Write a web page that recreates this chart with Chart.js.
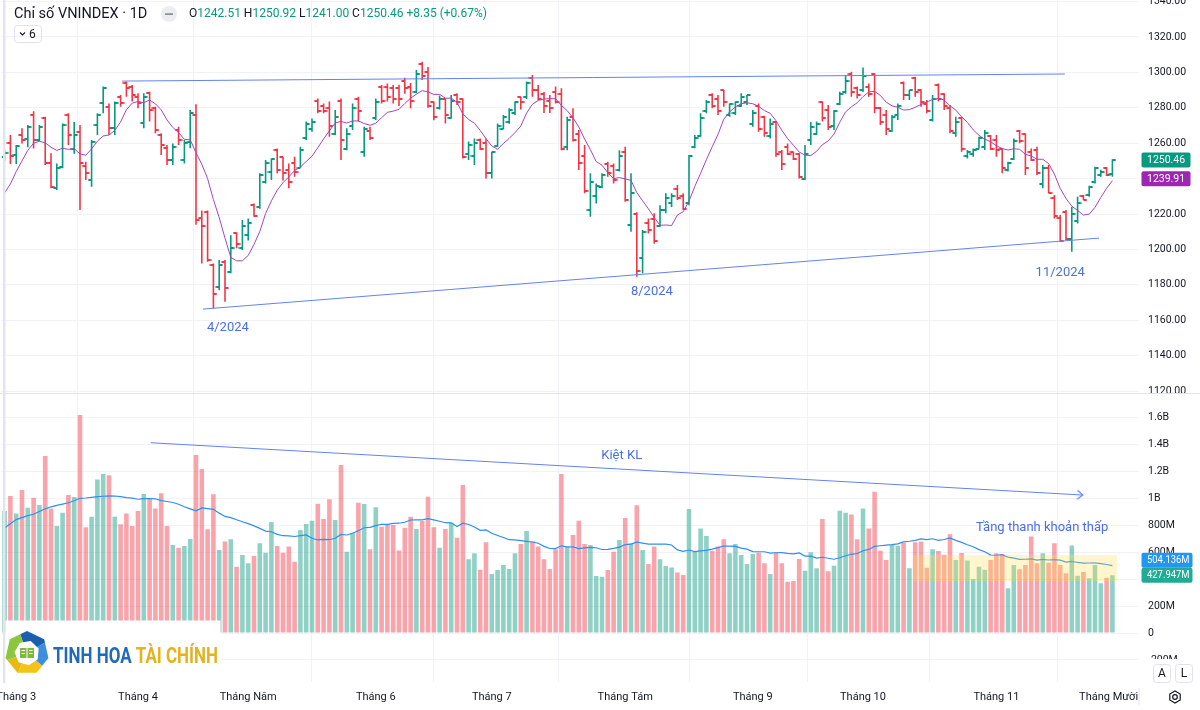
<!DOCTYPE html>
<html><head><meta charset="utf-8">
<script src="https://cdn.jsdelivr.net/npm/chart.js@4.4.1/dist/chart.umd.min.js"></script>
<style>html,body{margin:0;padding:0;background:#fff;}canvas{display:block;}</style>
</head><body>
<canvas id="c" width="1200" height="710"></canvas>
<script>
// ---------- DATA ----------
const SLOTS = 196; // trading-day slots on the time axis (192 bars + right margin)
const monthTickIndex = [2, 23, 42, 64, 84, 107, 129, 148, 171, 192];
const monthTickLabels = ['Tháng 3','Tháng 4','Tháng Năm','Tháng 6','Tháng 7','Tháng Tám','Tháng 9','Tháng 10','Tháng 11','Tháng Mười Hai'];

const opens = [
1252,1260.3,1253.3,1264.6,1262.5,1276,1262,1274,1248.6,1234.5,
1246.7,1276,1257,1266.5,1247,1239.2,1270.3,1282.5,1280.6,1268.4,
1286.3,1293.8,1292,1286.3,1271.2,1288.2,1279.7,1264.6,1257.1,1250.5,
1267.5,1250.5,1260.9,1276,1218,1221,1191,1179,1193,1187,
1209,1201,1208,1225,1224,1238,1244,1256,1252,1245,
1249,1246,1263,1268,1284,1281,1280,1265,1284,1257,
1270,1285,1255,1267,1274,1292,1292,1291,1291,1295,
1292,1289,1305,1300,1283,1280,1285,1274,1287,1285,
1254,1253,1262,1260,1243,1258.5,1268,1272,1277,1286,
1286,1297,1290,1288,1284,1289,1288,1258,1275,1265,
1253,1222,1230,1235,1248,1247,1245,1255,1214,1220,
1195,1215,1217,1213,1222,1226,1234,1230,1226,1258,
1264,1278,1287,1285,1290,1276,1277,1281,1283,1271,
1281,1275,1264,1272,1255,1258,1255,1254,1240,1262,
1265,1283,1279,1270,1282,1289,1299,1291,1290,1292,
1299,1280,1276,1267,1276,1294,1287,1297,1290,1282,
1273,1293,1288,1280,1266,1274,1253,1254,1257,1258,
1264,1262,1257,1245,1251,1267,1265,1255,1256,1237,
1246,1229,1218,1221,1206,1216,1230,1231,1238,1242,
1246,1242.51];
const highs = [
1256,1264.6,1259,1268.4,1270.3,1278,1270.3,1275,1254.3,1248.6,
1271.2,1276.9,1272,1270.3,1249.6,1261.8,1276.9,1292,1282.5,1283.5,
1287.2,1294.8,1292.9,1288.2,1288.2,1289.1,1280.6,1265.6,1259,1259.9,
1269.3,1261.8,1278.8,1282,1222,1222,1192,1194,1194,1208,
1209.5,1216.6,1217.5,1226,1243,1250.5,1251.4,1257,1252.4,1248.6,
1252.4,1258,1272.2,1274,1285.3,1282.5,1283.5,1278.8,1285.3,1268.4,
1282.5,1286.3,1269.3,1269.3,1285.3,1292.9,1293.8,1292.9,1293,1297,
1294,1301.4,1306,1303,1283.5,1287,1285.3,1287.2,1288.2,1285.3,
1261,1262.7,1262.7,1262.7,1255.2,1271.2,1276,1279.7,1283.5,1286.3,
1294.8,1298.5,1292.9,1289,1287.2,1292,1291,1275,1279.7,1267.5,
1259,1243,1237.3,1243,1249.6,1248.6,1256,1258,1243,1221,
1211,1217.5,1220.4,1225,1231.7,1231.7,1236.4,1231.7,1253.3,1264.6,
1276.9,1284.4,1288.2,1287.2,1290.1,1282.5,1283.5,1288.2,1287.2,1278.8,
1282.5,1275.5,1274,1272.2,1256.2,1259.9,1255.2,1254.3,1259,1272,
1272.2,1283.5,1281.6,1278.8,1289.1,1298.5,1300.4,1292,1302.8,1293.8,
1299.5,1280.5,1278.8,1276,1282.5,1294.8,1290.1,1297.6,1290.5,1284.4,
1287.2,1293.8,1288.2,1281.6,1275,1275,1256.2,1257,1263.7,1267.5,
1264.6,1264.6,1257.1,1249.6,1262.7,1267.5,1265.5,1257,1258,1247.7,
1247.7,1230.7,1219.4,1222.3,1224.1,1229.8,1230.7,1236,1246.7,1245,
1246.5,1250.92];
const lows = [
1250,1248.2,1248.2,1259.9,1257.7,1257,1260.9,1247.7,1234.5,1233.6,
1245.8,1259,1254,1222.3,1239.2,1235.4,1264.6,1276.9,1264.6,1264.6,
1280.6,1286.3,1283.5,1279.7,1268.4,1272.2,1265.6,1253.3,1247.7,1247.7,
1259,1248.6,1257.1,1214,1192,1193,1166.7,1177,1170.5,1186.5,
1200.6,1199.7,1205,1218.5,1223,1237.3,1239.2,1243,1239,1234.5,
1241,1246,1261.8,1266.5,1276.9,1276.9,1263.7,1264.6,1250.5,1256,
1267.5,1272.2,1252.4,1261.8,1273.1,1282.5,1283.5,1282.5,1281,1288,
1279.7,1288.2,1295.7,1280,1273,1279,1271.2,1274,1281.6,1251.4,
1250.5,1247.7,1256.2,1240.1,1240.1,1258,1268,1271,1276,1279,
1285,1286.3,1284.4,1277,1277,1282.5,1256,1256,1260.9,1244.9,
1231.7,1218.5,1226,1234.5,1241,1237.3,1244,1227,1210,1184.6,
1186.5,1209,1203.4,1212.8,1220.4,1224,1227.9,1222.3,1225,1257.1,
1263.7,1276.9,1279.7,1276,1280.6,1275,1276,1280.6,1281.6,1269.3,
1266.5,1263.7,1262.7,1252.4,1244.9,1253.3,1250.5,1240.1,1239.2,1259,
1264.6,1272.2,1267.5,1267.5,1281.6,1288,1286.3,1285.3,1289,1286.3,
1276.9,1270.3,1264.6,1266.5,1273.1,1284.4,1284.4,1286.3,1280.6,1276.9,
1272.2,1283.5,1278.8,1265.6,1263.7,1255.2,1251.4,1252.4,1257,1256.2,
1256.2,1252.4,1243,1244,1250.5,1260,1242,1250,1242,1234.5,
1231.7,1217.5,1204.4,1205.3,1198.7,1214.7,1227.9,1229.8,1237.3,1241,
1241.5,1241.00];
const closes = [
1254.6,1252.8,1258.4,1261.8,1269,1262,1269,1248.6,1235.4,1245.8,
1270.3,1264.6,1264.6,1248.6,1243,1260.9,1275.9,1291,1268.4,1282.5,
1282.5,1291,1287.2,1282.5,1286.3,1278.8,1267.5,1259,1250.5,1258,
1261.8,1259.9,1276.9,1216.6,1213,1194,1175,1191,1178,1201,
1203,1213,1215,1219,1242,1249,1251,1245,1243,1238,
1244,1256,1271,1272,1278,1278,1270,1275,1262,1265,
1280,1278,1268,1263,1283,1284,1286,1285,1285,1291,
1284,1299,1298,1281,1275,1285,1276,1284,1283,1252,
1259,1260,1257,1243,1255,1270,1275,1279,1283,1283,
1294,1290,1285,1281,1280,1283,1256.5,1273,1262,1249,
1233,1238,1236,1242,1243,1239,1253,1228,1232,1187.6,
1210,1211,1205,1222,1229,1230,1229,1223,1253,1263,
1274,1283,1281,1278,1283,1282,1283,1286,1287,1277,
1268,1266,1271,1254,1248,1254,1251,1241,1254,1269,
1271,1274,1269,1278,1288,1295,1289,1287,1298,1288,
1280,1272,1268,1275,1281,1287,1290,1289,1283,1278,
1285,1285,1281,1267,1272,1257,1255,1256,1263,1266,
1257,1256,1246,1249,1261,1261,1246,1250.5,1243,1246,
1232,1219,1205,1206,1220,1226,1228,1235.4,1246,1244,
1242.11,1250.46];
// volume, millions of shares
const volumes = [
904,1015,886,1059,928,1002,948,1311,923,793,
891,1022,1007,1615,783,862,1138,1178,1168,862,
805,886,793,904,1030,993,923,1035,793,652,
632,644,696,1319,1215,768,1027,615,677,694,
491,578,516,570,664,595,822,644,595,640,
528,763,807,832,958,844,990,837,1244,602,
743,965,956,620,931,788,807,800,611,780,
862,770,830,1010,783,632,770,817,706,1096,
546,590,469,672,437,467,504,474,590,659,
756,677,640,546,474,620,1178,644,726,832,
659,652,422,417,467,602,689,852,664,946,
615,511,640,546,496,486,449,430,919,602,
775,719,610,640,694,590,659,578,511,585,
595,516,437,598,516,380,385,548,462,598,
479,844,457,499,906,891,877,694,923,775,
1047,610,541,652,647,669,479,672,677,484,
620,607,580,731,541,593,538,400,491,469,
541,590,585,331,504,472,504,714,516,590,
521,664,504,442,649,425,452,405,504,368,
410,427.947];

// moving averages: values before the first full window
const MA_LEN = 7, VMA_LEN = 20;
const maStart = [1232,1237,1244,1250,1256,1260];
const volMaStart = [780,810,840,855,870,880,900,920,935,945,955,965,980,998,1000,1005,1010,1013,1016];
const lastLabelValues = { priceMa: 1239.91, volMa: 504.136 };

// drawings
const priceTrendTop = [{x:20.24, y:1295.1}, {x:182.8, y:1299.1}];
const priceTrendBottom = [{x:34.2, y:1166.3}, {x:188.7, y:1206.4}];
const volTrend = [{x:25.19, y:1409.6}, {x:185.9, y:1022}];
const lowZone = {from:156.6, to:191.8, low:385, high:578};
const notes = [
  {text:'4/2024', x:38.5, y:1155.6, axis:'y'},
  {text:'8/2024', x:111.6, y:1175.9, axis:'y'},
  {text:'11/2024', x:182, y:1186.7, axis:'y'},
  {text:'Kiệt KL', x:106.4, y:1311, axis:'yv'},
  {text:'Tầng thanh khoản thấp', x:178.9, y:778, axis:'yv'}
];

// ---------- helpers ----------
const UP = '#089981', DN = '#f23645';
const UPV = 'rgba(8,153,129,0.45)', DNV = 'rgba(242,54,69,0.45)';
const DRAW = '#6283ec', NOTE = '#4a6fe3';
const isUp = i => closes[i] >= opens[i];
function sma(src, len, lead) {
  return src.map((_, i) => {
    if (i < lead.length) return lead[i];
    let s = 0; for (let k = i - len + 1; k <= i; k++) s += src[k];
    return s / len;
  });
}
const maVals = sma(closes, MA_LEN, maStart);
const volMaVals = sma(volumes, VMA_LEN, volMaStart);
function tickImg(color, side) {
  const c = document.createElement('canvas'); c.width = 8; c.height = 2;
  const g = c.getContext('2d'); g.fillStyle = color;
  if (side === 'L') g.fillRect(0.5, 0, 3.5, 2); else g.fillRect(4, 0, 3.5, 2);
  return c;
}
function chevron(color) {
  const c = document.createElement('canvas'); c.width = 16; c.height = 16;
  const g = c.getContext('2d'); g.strokeStyle = color; g.lineWidth = 1.2;
  g.beginPath(); g.moveTo(2.5, 3.5); g.lineTo(8, 8); g.lineTo(2.5, 12.5); g.stroke();
  return c;
}
const openUp = tickImg(UP,'L'), openDn = tickImg(DN,'L'), closeUp = tickImg(UP,'R'), closeDn = tickImg(DN,'R');
const arrowImg = chevron(DRAW);
const idx = opens.map((_, i) => i);

Chart.defaults.font.family = 'Roboto, "Noto Sans", sans-serif';
Chart.defaults.font.size = 11;
Chart.defaults.color = '#131722';

const GRID = '#f0f2f7';
const AXIS_FONT = { size: 10.5 };

const overlay = {
  id: 'overlay',
  afterDatasetsDraw(chart) {
    const {ctx} = chart; const xs = chart.scales.x, yv = chart.scales.yv;
    ctx.save();
    const x0 = xs.getPixelForValue(lowZone.from), x1 = xs.getPixelForValue(lowZone.to);
    const y0 = yv.getPixelForValue(lowZone.high), y1 = yv.getPixelForValue(lowZone.low);
    ctx.fillStyle = 'rgba(255,224,80,0.28)';
    ctx.fillRect(x0, y0, x1 - x0, y1 - y0);
    ctx.restore();
  },
  afterDraw(chart) {
    const {ctx} = chart; const xs = chart.scales.x, ys = chart.scales.y, yv = chart.scales.yv;
    const W = chart.width;
    const R = xs.right;
    ctx.save();
    // notes
    ctx.font = '13px Roboto'; ctx.fillStyle = NOTE; ctx.textAlign = 'center'; ctx.textBaseline = 'middle';
    notes.forEach(n => {
      const sc = n.axis === 'y' ? ys : yv;
      ctx.fillText(n.text, xs.getPixelForValue(n.x), sc.getPixelForValue(n.y));
    });
    // pane separator
    ctx.fillStyle = '#fff'; ctx.fillRect(R, ys.bottom, W - R, 9);
    ctx.strokeStyle = '#e0e3eb'; ctx.lineWidth = 1;
    ctx.beginPath(); ctx.moveTo(0, Math.round(ys.bottom) + 0.5); ctx.lineTo(W, Math.round(ys.bottom) + 0.5); ctx.stroke();
    // left border strip
    ctx.fillStyle = '#e2e5ee'; ctx.fillRect(3, 0, 2.5, 683);
    // logo
    ctx.fillStyle = '#fff'; ctx.fillRect(5.5, 620.5, 215, 62);
    drawLogo(ctx);
    // bottom-right controls
    ctx.fillStyle = '#fff'; ctx.fillRect(R + 0.5, 659, W - R, 24);
    ctx.fillRect(R + 0.5, 683, W - R, 27);
    ctx.strokeStyle = '#e0e3eb';
    ctx.beginPath(); ctx.moveTo(R + 0.5, 688); ctx.lineTo(R + 0.5, 705); ctx.stroke();
    [['A', 1153.5], ['L', 1175.5]].forEach(([t, x]) => {
      ctx.strokeStyle = '#e0e3eb'; ctx.beginPath(); ctx.roundRect(x, 664.5, 17, 18, 3); ctx.stroke();
      ctx.fillStyle = '#131722'; ctx.font = '12px Roboto'; ctx.textAlign = 'center'; ctx.textBaseline = 'middle';
      ctx.fillText(t, x + 8.5, 674);
    });
    // gear
    ctx.strokeStyle = '#131722'; ctx.lineWidth = 1.2; ctx.beginPath();
    for (let k = 0; k < 6; k++) { const a = Math.PI / 6 + k * Math.PI / 3; const px = 1175 + 6 * Math.cos(a), py = 697 + 6 * Math.sin(a); k ? ctx.lineTo(px, py) : ctx.moveTo(px, py); }
    ctx.closePath(); ctx.stroke();
    ctx.beginPath(); ctx.arc(1175, 697, 2.3, 0, Math.PI * 2); ctx.stroke();
    // price-scale labels
    const last = closes.length - 1;
    const box = (y, color, text, x0 = 1141.5, w = 49) => {
      ctx.fillStyle = color; ctx.beginPath(); ctx.roundRect(x0, y - 7.5, w, 15, 2); ctx.fill();
      ctx.fillStyle = '#fff'; ctx.font = '10.5px Roboto'; ctx.textAlign = 'left'; ctx.textBaseline = 'middle';
      const tw = ctx.measureText(text).width, maxW = x0 + w - 3 - 1147;
      ctx.save(); ctx.translate(1147, y + 0.5);
      if (tw > maxW) ctx.scale(maxW / tw, 1);
      ctx.fillText(text, 0, 0); ctx.restore();
    };
    box(ys.getPixelForValue(closes[last]), UP, closes[last].toFixed(2));
    box(ys.getPixelForValue(lastLabelValues.priceMa), '#9c27b0', lastLabelValues.priceMa.toFixed(2));
    const vY = yv.getPixelForValue(volumes[last]);
    const mY = Math.min(yv.getPixelForValue(lastLabelValues.volMa), vY - 15);
    box(mY, '#2196f3', lastLabelValues.volMa.toFixed(3) + 'M', 1141.5, 51);
    box(vY, '#22ab94', volumes[last].toFixed(3) + 'M', 1141.5, 51);
    // header legend
    ctx.textAlign = 'left'; ctx.textBaseline = 'middle';
    ctx.font = '14.5px Roboto'; ctx.fillStyle = '#131722';
    ctx.fillText('Chỉ số VNINDEX · 1D', 14, 14);
    ctx.fillStyle = '#ebedf1'; ctx.beginPath(); ctx.arc(169, 14, 8, 0, Math.PI * 2); ctx.fill();
    ctx.fillStyle = '#8f929b'; ctx.fillRect(165, 13.2, 8, 1.8);
    const chg = closes[last] - closes[last - 1];
    const pct = chg / closes[last - 1] * 100;
    const sign = chg >= 0 ? '+' : '';
    const col = chg >= 0 ? UP : DN;
    const parts = [['O', '#131722'], [opens[last].toFixed(2), col], [' H', '#131722'], [highs[last].toFixed(2), col],
      [' L', '#131722'], [lows[last].toFixed(2), col], [' C', '#131722'], [closes[last].toFixed(2), col],
      [' ' + sign + chg.toFixed(2) + ' (' + sign + pct.toFixed(2) + '%)', col]];
    ctx.font = '12px Roboto';
    let hx = 189;
    parts.forEach(([t, c]) => { ctx.fillStyle = c; ctx.fillText(t, hx, 14); hx += ctx.measureText(t).width; });
    ctx.strokeStyle = '#e0e3eb'; ctx.lineWidth = 1;
    ctx.beginPath(); ctx.roundRect(14.5, 25.5, 27, 17, 3); ctx.stroke();
    ctx.strokeStyle = '#131722'; ctx.lineWidth = 1.1;
    ctx.beginPath(); ctx.moveTo(20, 32.5); ctx.lineTo(22.5, 35); ctx.lineTo(25, 32.5); ctx.stroke();
    ctx.fillStyle = '#131722'; ctx.font = '12px Roboto'; ctx.fillText('6', 29, 34.5);
    ctx.restore();
  }
};

function drawLogo(ctx) {
  const cx = 27, cy = 653, R = 22;
  const segs = [['#1b5fae', -110, -30], ['#3d8fdc', -30, 40], ['#f3c316', 40, 115], ['#e8b90f', 115, 160], ['#8cc63e', 160, 250]];
  const poly = (r, a0) => { ctx.beginPath(); for (let k = 0; k < 7; k++) { const a = a0 + k * 2 * Math.PI / 7; const px = cx + r * Math.cos(a), py = cy + r * Math.sin(a); k ? ctx.lineTo(px, py) : ctx.moveTo(px, py); } ctx.closePath(); };
  ctx.save();
  poly(R, -Math.PI / 2); ctx.clip();
  segs.forEach(([c, a0, a1]) => {
    ctx.fillStyle = c; ctx.beginPath(); ctx.moveTo(cx, cy);
    ctx.arc(cx, cy, R + 4, a0 * Math.PI / 180, a1 * Math.PI / 180); ctx.closePath(); ctx.fill();
  });
  ctx.restore();
  ctx.fillStyle = '#fff'; poly(12.5, -Math.PI / 2 + 0.3); ctx.fill();
  ctx.fillStyle = '#7fb83a';
  ctx.fillRect(cx - 7, cy - 5, 6.5, 10); ctx.fillRect(cx + 0.5, cy - 5, 6.5, 10);
  ctx.fillStyle = '#fff'; ctx.fillRect(cx - 5.5, cy - 3, 3.5, 1); ctx.fillRect(cx + 2, cy - 3, 3.5, 1);
  ctx.fillRect(cx - 5.5, cy, 3.5, 1); ctx.fillRect(cx + 2, cy, 3.5, 1);
  ctx.save();
  ctx.font = 'bold 22px Roboto'; ctx.textAlign = 'left'; ctx.textBaseline = 'alphabetic';
  const t1 = 'TINH HOA ', t2 = 'TÀI CHÍNH';
  const w1 = ctx.measureText(t1).width, w2 = ctx.measureText(t2).width;
  ctx.translate(53, 663); ctx.scale(165 / (w1 + w2), 1);
  ctx.fillStyle = '#1f6bb8'; ctx.fillText(t1, 0, 0);
  ctx.fillStyle = '#e3b21d'; ctx.fillText(t2, w1, 0);
  ctx.restore();
}

new Chart(document.getElementById('c'), {
  data: {
    datasets: [
      { type:'line', label:'trend top', data: priceTrendTop, yAxisID:'y', borderColor: DRAW, borderWidth: 1, pointRadius: 0, order: 0 },
      { type:'line', label:'trend bottom', data: priceTrendBottom, yAxisID:'y', borderColor: DRAW, borderWidth: 1, pointRadius: 0, order: 0 },
      { type:'line', label:'Kiệt KL', data: volTrend, yAxisID:'yv', borderColor: DRAW, borderWidth: 1,
        pointRadius: [0, 5], pointStyle: [false, arrowImg],
        pointRotation: (c) => { const ch = c.chart, xs = ch.scales.x, ys = ch.scales.yv; if (!xs || !ys) return 0;
          const dx = xs.getPixelForValue(volTrend[1].x) - xs.getPixelForValue(volTrend[0].x);
          const dy = ys.getPixelForValue(volTrend[1].y) - ys.getPixelForValue(volTrend[0].y);
          return Math.atan2(dy, dx) * 180 / Math.PI; }, order: 0 },
      { type:'line', label:'MA', data: idx.map(i => ({x:i, y:maVals[i]})), yAxisID:'y', borderColor:'#a245bd', borderWidth: 1, pointRadius: 0, order: 1 },
      { type:'line', label:'open', data: idx.map(i => ({x:i, y:opens[i]})), yAxisID:'y', showLine:false, pointRadius: 3,
        pointStyle: c => isUp(c.dataIndex) ? openUp : openDn, order: 2 },
      { type:'line', label:'close', data: idx.map(i => ({x:i, y:closes[i]})), yAxisID:'y', showLine:false, pointRadius: 3,
        pointStyle: c => isUp(c.dataIndex) ? closeUp : closeDn, order: 2 },
      { type:'bar', label:'range', data: idx.map(i => ({x:i, y:[lows[i], highs[i]]})), yAxisID:'y', grouped:false, barThickness: 1.6,
        inflateAmount: 0, borderWidth: 0, backgroundColor: idx.map(i => isUp(i) ? UP : DN), order: 3 },
      { type:'line', label:'Vol MA', data: idx.map(i => ({x:i, y:volMaVals[i]})), yAxisID:'yv', borderColor:'#2f8ff0', borderWidth: 1.2, pointRadius: 0, order: 4 },
      { type:'bar', label:'Volume', data: idx.map(i => ({x:i, y:volumes[i]})), yAxisID:'yv', grouped:false, barThickness: 4.6,
        inflateAmount: 0, borderWidth: 0, backgroundColor: idx.map(i => isUp(i) ? UPV : DNV), order: 5 }
    ]
  },
  options: {
    responsive: false, animation: false, events: [],
    layout: { autoPadding: false, padding: { left: 1.7, right: 0, top: 0, bottom: 0 } },
    plugins: { legend: { display: false }, tooltip: { enabled: false } },
    scales: {
      x: { type:'linear', position:'bottom', min: -0.5, max: SLOTS - 0.5, offset: false,
        afterBuildTicks: s => { s.ticks = monthTickIndex.map(v => ({ value: v })); },
        ticks: { autoSkip: false, maxRotation: 0, padding: 9, color:'#131722', font: { size: 11 },
          callback: v => { const k = monthTickIndex.indexOf(v); return k >= 0 ? monthTickLabels[k] : ''; } },
        grid: { color: GRID, drawTicks: false }, border: { display: false },
        afterFit: s => { s.height = 28; s.paddingLeft = 0; s.paddingRight = 0; } },
      y: { type:'linear', position:'right', stack:'panes', stackWeight: 393, min: 1118.9, max: 1340.9,
        ticks: { stepSize: 20, includeBounds: false, maxTicksLimit: 30, padding: 9.5, color:'#131722', font: AXIS_FONT,
          callback: v => v.toFixed(2) },
        grid: { color: GRID, drawTicks: false }, border: { display: false },
        afterFit: s => { s.width = 61.5; s.paddingTop = 0; s.paddingBottom = 0; } },
      yv: { type:'linear', position:'right', stack:'panes', stackWeight: 289, min: -363, max: 1778,
        ticks: { stepSize: 200, includeBounds: false, maxTicksLimit: 30, padding: 9.5, color:'#131722', font: AXIS_FONT,
          callback: v => v === 0 ? '0' : (Math.abs(v) >= 1000 ? (v / 1000) + 'B' : v + 'M') },
        grid: { color: GRID, drawTicks: false }, border: { display: false },
        afterFit: s => { s.width = 61.5; s.paddingTop = 0; s.paddingBottom = 0; } }
    }
  },
  plugins: [overlay]
});
</script>
</body></html>
